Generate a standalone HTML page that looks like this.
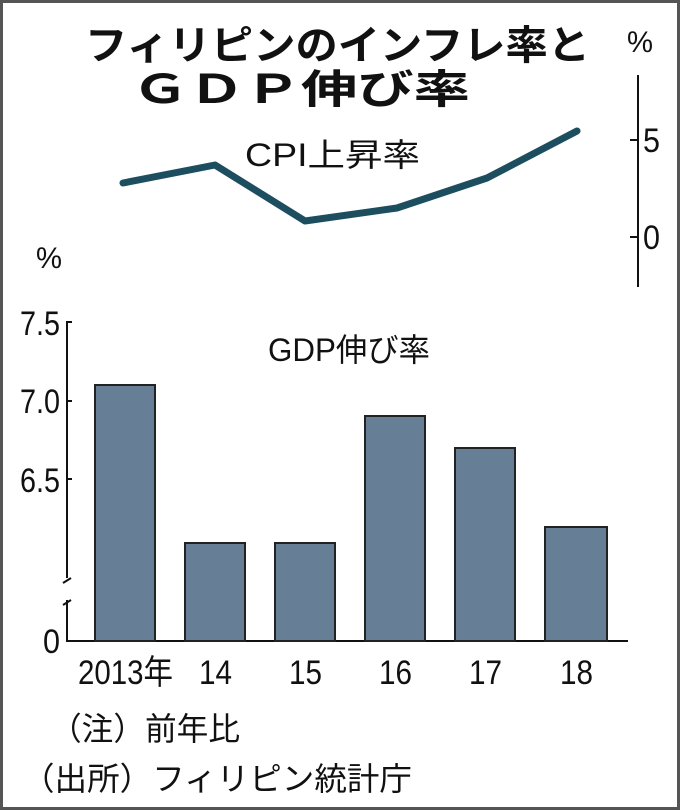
<!DOCTYPE html>
<html><head><meta charset="utf-8"><style>
html,body{margin:0;padding:0;background:#fff;}
svg{display:block;}
text{font-family:"Liberation Sans","Noto Sans CJK JP",sans-serif;fill:#111;}
</style></head><body>
<svg width="680" height="810" viewBox="0 0 680 810" xmlns="http://www.w3.org/2000/svg">
<rect x="1.5" y="1.5" width="677" height="807" fill="#fff" stroke="#555" stroke-width="3"/>
<text x="85" y="59" font-size="40" font-weight="bold" textLength="505" lengthAdjust="spacingAndGlyphs" font-family="Noto Sans CJK JP, sans-serif">フィリピンのインフレ率と</text>
<text x="132" y="103" font-size="40" font-weight="bold" textLength="338" lengthAdjust="spacingAndGlyphs" font-family="Noto Sans CJK JP, sans-serif">ＧＤＰ伸び率</text>
<text x="640" y="52" font-size="30" text-anchor="middle" textLength="26" lengthAdjust="spacingAndGlyphs">%</text>
<line x1="638" y1="75" x2="638" y2="287" stroke="#111" stroke-width="2"/>
<line x1="630" y1="140" x2="638" y2="140" stroke="#111" stroke-width="2"/>
<line x1="630" y1="237" x2="638" y2="237" stroke="#111" stroke-width="2"/>
<text x="643" y="152" font-size="34" textLength="17" lengthAdjust="spacingAndGlyphs">5</text>
<text x="643" y="249" font-size="34" textLength="17" lengthAdjust="spacingAndGlyphs">0</text>
<text x="245" y="166" font-size="32" textLength="175" lengthAdjust="spacingAndGlyphs">CPI上昇率</text>
<polyline points="123,183 215,165 305,221 397,208 487,178 577,131" fill="none" stroke="#1d4e5f" stroke-width="7" stroke-linecap="round" stroke-linejoin="round"/>
<text x="36" y="268" font-size="30" textLength="26" lengthAdjust="spacingAndGlyphs">%</text>
<path d="M72,322 H67 V578 M67,600 V641 H628" fill="none" stroke="#111" stroke-width="2"/>
<line x1="63" y1="583" x2="71" y2="578" stroke="#111" stroke-width="2"/>
<line x1="63" y1="605" x2="71" y2="600" stroke="#111" stroke-width="2"/>
<line x1="67" y1="401" x2="72" y2="401" stroke="#111" stroke-width="2"/>
<line x1="67" y1="479" x2="72" y2="479" stroke="#111" stroke-width="2"/>
<g font-size="34">
<text x="20" y="335" textLength="40" lengthAdjust="spacingAndGlyphs">7.5</text>
<text x="20" y="413" textLength="40" lengthAdjust="spacingAndGlyphs">7.0</text>
<text x="20" y="492" textLength="40" lengthAdjust="spacingAndGlyphs">6.5</text>
<text x="43" y="653" textLength="17" lengthAdjust="spacingAndGlyphs">0</text>
</g>
<text x="268" y="361" font-size="32" textLength="162" lengthAdjust="spacingAndGlyphs">GDP伸び率</text>
<g fill="#667f96" stroke="#222" stroke-width="2">
<rect x="95" y="385" width="60" height="256"/>
<rect x="185" y="543" width="60" height="98"/>
<rect x="275" y="543" width="60" height="98"/>
<rect x="365" y="416" width="60" height="225"/>
<rect x="455" y="448" width="60" height="193"/>
<rect x="545" y="527" width="62" height="114"/>
</g>
<g font-size="34">
<text x="78" y="684" textLength="95" lengthAdjust="spacingAndGlyphs">2013年</text>
<text x="199" y="684" textLength="33" lengthAdjust="spacingAndGlyphs">14</text>
<text x="289" y="684" textLength="33" lengthAdjust="spacingAndGlyphs">15</text>
<text x="379" y="684" textLength="33" lengthAdjust="spacingAndGlyphs">16</text>
<text x="469" y="684" textLength="33" lengthAdjust="spacingAndGlyphs">17</text>
<text x="560" y="684" textLength="33" lengthAdjust="spacingAndGlyphs">18</text>
</g>
<text x="50" y="740" font-size="32" textLength="190" lengthAdjust="spacingAndGlyphs">（注）前年比</text>
<text x="22" y="790" font-size="32" textLength="390" lengthAdjust="spacingAndGlyphs">（出所）フィリピン統計庁</text>
</svg>
</body></html>
